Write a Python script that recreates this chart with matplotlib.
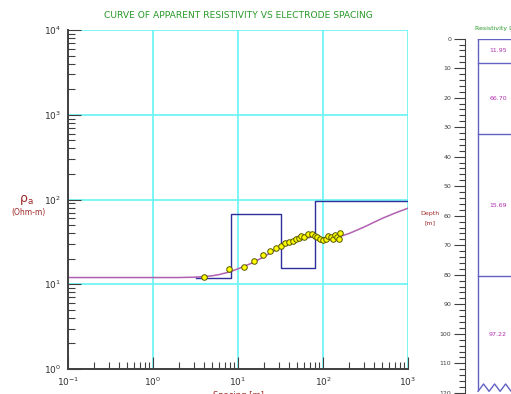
import numpy as np
import matplotlib.pyplot as plt
from matplotlib.ticker import LogLocator, MultipleLocator, NullFormatter

spacing = [3.98, 7.9, 11.7, 15.6, 19.5, 23.8, 28.0, 31.8, 35.7, 39.8, 44.0, 48.0, 51.8,
           55.6, 59.8, 67.2, 74.2, 79.8, 85.7, 92.2, 101, 108, 115, 123, 132, 140, 147, 153, 158]
rho_obs = [12.3, 15.0, 16.1, 19.0, 22.1, 24.7, 27.0, 28.3, 30.4, 31.5, 32.7, 33.9, 35.4,
           37.1, 35.8, 39.2, 39.2, 37.1, 35.8, 34.5, 33.3, 33.9, 37.1, 36.4, 33.9, 38.1, 35.8, 33.9, 40.6]

# calculated curve
curve_x = [0.1, 1, 2, 3, 4, 5, 6, 8, 10, 12, 15, 20, 25, 30, 40, 50, 60, 70, 80, 90,
           100, 120, 150, 200, 300, 400, 500, 700, 1000]
curve_y = [12.0, 12.0, 12.0, 12.1, 12.3, 12.6, 13.0, 14.0, 15.2, 16.4, 18.0, 21.0, 24.0,
           26.5, 30.0, 32.5, 34.5, 35.8, 36.2, 35.8, 35.2, 34.8, 36.0, 39.5, 47.0, 54.0,
           60.0, 69.0, 79.0]

# layered model
model_rho = [11.95, 66.70, 15.69, 97.22]
model_depth = [8.2, 32.4, 80.5]
model_start = 3.2
log_bottom = 120

fig = plt.figure(figsize=(5.11, 3.94), dpi=100)

# main sounding curve
ax = fig.add_axes([68/511, 25/394, 340/511, 339/394])
ax.set_xscale('log')
ax.set_yscale('log')
ax.set_xlim(0.1, 1000)
ax.set_ylim(1, 10000)

ax.grid(True, which='major', color='#66f4f4', lw=1.2, zorder=0)
ax.set_axisbelow(True)

ax.plot(curve_x, curve_y, color='#b060b0', lw=1.1, zorder=2)
step_x = [model_start] + model_depth + [1000]
step_y = model_rho + [model_rho[-1]]
ax.step(step_x, step_y, where='post', color='#2e2e9c', lw=1.0, zorder=3)
ax.plot(spacing, rho_obs, 'o', ms=4, mfc='#ffff00', mec='#555500', mew=0.7, zorder=4)

for s in ['top', 'right']:
    ax.spines[s].set_visible(False)
for s in ['left', 'bottom']:
    ax.spines[s].set_color('#404040')
    ax.spines[s].set_linewidth(1.4)
    ax.spines[s].set_zorder(5)
ax.xaxis.set_major_locator(LogLocator(base=10, numticks=10))
ax.yaxis.set_major_locator(LogLocator(base=10, numticks=10))
ax.xaxis.set_minor_locator(LogLocator(base=10, subs=np.arange(2, 10), numticks=20))
ax.yaxis.set_minor_locator(LogLocator(base=10, subs=np.arange(2, 10), numticks=20))
ax.xaxis.set_minor_formatter(NullFormatter())
ax.yaxis.set_minor_formatter(NullFormatter())
ax.tick_params(which='major', direction='in', length=9, width=0.8, color='#404040',
               labelsize=6.5, labelcolor='#303030', pad=5)
ax.tick_params(which='minor', direction='in', length=5, width=0.8, color='#404040')

ax.set_title('CURVE OF APPARENT RESISTIVITY VS ELECTRODE SPACING',
             color='#2a9a2a', fontsize=6.6, pad=9)
fig.text(26/511, 1 - 200/394, r'$\mathregular{\rho_a}$', color='#a02828',
         fontsize=9, ha='center', va='center')
fig.text(28/511, 1 - 213/394, '(Ohm-m)', color='#a02828', fontsize=5.5,
         ha='center', va='center')
ax.set_xlabel('Spacing [m]', color='#a02828', fontsize=6, labelpad=2)

# resistivity log panel
ax2 = fig.add_axes([465/511, -0.0345, 0.3, 0.9365])
ax2.set_ylim(125, 0)
ax2.set_xlim(0, 1)
for s in ['top', 'right', 'bottom']:
    ax2.spines[s].set_visible(False)
ax2.spines['left'].set_color('#404040')
ax2.set_xticks([])
ax2.yaxis.set_major_locator(MultipleLocator(10))
ax2.yaxis.set_minor_locator(MultipleLocator(2))
ax2.tick_params(which='major', direction='out', length=8, width=0.8, color='#404040',
                labelsize=4.5, labelcolor='#404040', pad=2)
ax2.tick_params(which='minor', direction='out', length=4, width=0.8, color='#404040')

box_left = 0.085
box_c = '#6262c4'
ax2.plot([box_left, box_left], [0, log_bottom - 1], color=box_c, lw=1)
ax2.plot([box_left, 1], [0, 0], color=box_c, lw=1)
for d in model_depth:
    ax2.plot([box_left, 1], [d, d], color=box_c, lw=1)
tops = [0] + model_depth
bots = model_depth + [log_bottom]
for r, t, b in zip(model_rho, tops, bots):
    ax2.text(0.215, (t + b) / 2, f'{r:.2f}', color='#b030b0', fontsize=4.5,
             ha='center', va='center')
zx = np.arange(box_left, 1, 0.036)
zy = np.where(np.arange(len(zx)) % 2 == 0, 119.5, 117.0)
ax2.plot(zx, zy, color=box_c, lw=1)
ax2.text(box_left - 0.02, -3.5, 'Resistivity Log', color='#2a9a2a', fontsize=4.5,
         ha='left', va='center')
fig.text(430/511, 1 - 213/394, 'Depth', color='#a02828', fontsize=4.5,
         ha='center', va='center')
fig.text(430/511, 1 - 223/394, '[m]', color='#a02828', fontsize=4.5,
         ha='center', va='center')

fig.savefig('out.png', dpi=100)
